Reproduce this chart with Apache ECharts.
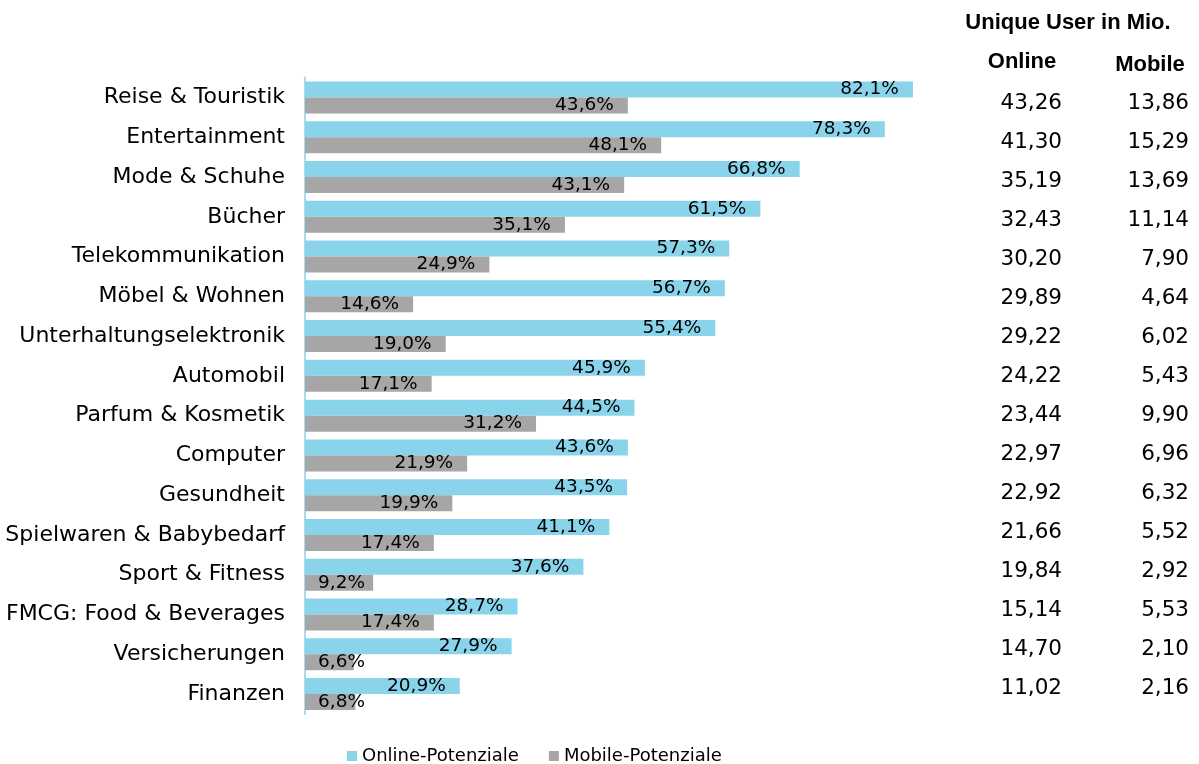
<!DOCTYPE html>
<html>
<head>
<meta charset="utf-8">
<script src="https://cdn.jsdelivr.net/npm/echarts@6/dist/echarts.min.js"></script>
<style>
  html, body { margin: 0; padding: 0; background: #ffffff; }
  #chart { width: 1199px; height: 764px; }
</style>
</head>
<body>
<div id="chart"></div>
<script>
// Branchen, von oben nach unten
const categories = [
  'Reise & Touristik', 'Entertainment', 'Mode & Schuhe', 'Bücher',
  'Telekommunikation', 'Möbel & Wohnen', 'Unterhaltungselektronik', 'Automobil',
  'Parfum & Kosmetik', 'Computer', 'Gesundheit', 'Spielwaren & Babybedarf',
  'Sport & Fitness', 'FMCG: Food & Beverages', 'Versicherungen', 'Finanzen'
];
// Reichweitenpotenziale in %
const onlinePotential = [82.1, 78.3, 66.8, 61.5, 57.3, 56.7, 55.4, 45.9, 44.5, 43.6, 43.5, 41.1, 37.6, 28.7, 27.9, 20.9];
const mobilePotential = [43.6, 48.1, 43.1, 35.1, 24.9, 14.6, 19.0, 17.1, 31.2, 21.9, 19.9, 17.4, 9.2, 17.4, 6.6, 6.8];
// Unique User in Mio.
const onlineUsers = [43.26, 41.30, 35.19, 32.43, 30.20, 29.89, 29.22, 24.22, 23.44, 22.97, 22.92, 21.66, 19.84, 15.14, 14.70, 11.02];
const mobileUsers = [13.86, 15.29, 13.69, 11.14, 7.90, 4.64, 6.02, 5.43, 9.90, 6.96, 6.32, 5.52, 2.92, 5.53, 2.10, 2.16];

const FONT = 'DejaVu Sans';
const HEAD_FONT = 'Liberation Sans';
const pct = v => v.toFixed(1).replace('.', ',') + '%';
const num = v => v.toFixed(2).replace('.', ',');

// short bars keep their label near the axis instead of spilling left
const barData = vals => vals.map(v => v < 10
  ? { value: v, label: { position: 'insideLeft', distance: 13 } }
  : { value: v });

const hiddenX = idx => ({
  gridIndex: idx, type: 'value', min: 0, max: 100, show: false
});
const tableAxis = (idx, values) => ({
  gridIndex: idx, type: 'category', inverse: true, data: categories,
  axisLine: { show: false }, axisTick: { show: false }, splitLine: { show: false },
  axisLabel: {
    margin: 0, color: '#000', fontFamily: FONT, fontSize: 21.5,
    formatter: (v, i) => num(values[i])
  }
});
const headText = (text, cx, top) => ({
  type: 'text', x: cx, y: top,
  style: {
    text, align: 'center', verticalAlign: 'top',
    fontFamily: HEAD_FONT, fontWeight: 'bold', fontSize: 22, fill: '#000'
  }
});

const chart = echarts.init(document.getElementById('chart'), null, { renderer: 'canvas' });
chart.setOption({
  animation: false,
  backgroundColor: '#ffffff',
  grid: [
    { left: 305, top: 77.6, width: 740.5, height: 636.3 },
    { left: 1062, top: 83.5, width: 1, height: 624 },
    { left: 1189, top: 83.5, width: 1, height: 624 }
  ],
  xAxis: [hiddenX(0), hiddenX(1), hiddenX(2)],
  yAxis: [
    {
      gridIndex: 0, type: 'category', inverse: true, data: categories,
      axisLine: { show: true, lineStyle: { color: '#A9DCEE', width: 2 } },
      axisTick: { show: false },
      splitLine: { show: false },
      axisLabel: { margin: 20, color: '#000', fontFamily: FONT, fontSize: 22 }
    },
    tableAxis(1, onlineUsers),
    tableAxis(2, mobileUsers)
  ],
  legend: {
    left: 347, top: 747, padding: 0,
    itemWidth: 10, itemHeight: 10, itemGap: 30,
    icon: 'rect',
    textStyle: { fontFamily: FONT, fontSize: 18, color: '#000' },
    data: ['Online-Potenziale', 'Mobile-Potenziale']
  },
  graphic: [
    headText('Unique User in Mio.', 1068, 12),
    headText('Online', 1022, 51),
    headText('Mobile', 1150, 54)
  ],
  series: [
    {
      name: 'Online-Potenziale', type: 'bar', xAxisIndex: 0, yAxisIndex: 0,
      data: barData(onlinePotential),
      barWidth: 16, barGap: '0%',
      itemStyle: { color: '#8AD4EB' },
      label: {
        show: true, position: 'insideRight', distance: 14,
        color: '#000', fontFamily: FONT, fontSize: 18.5,
        formatter: p => pct(p.value)
      }
    },
    {
      name: 'Mobile-Potenziale', type: 'bar', xAxisIndex: 0, yAxisIndex: 0,
      data: barData(mobilePotential),
      barWidth: 16, barGap: '0%',
      itemStyle: { color: '#A6A6A6' },
      label: {
        show: true, position: 'insideRight', distance: 14,
        color: '#000', fontFamily: FONT, fontSize: 18.5,
        formatter: p => pct(p.value)
      }
    }
  ]
});
</script>
</body>
</html>
